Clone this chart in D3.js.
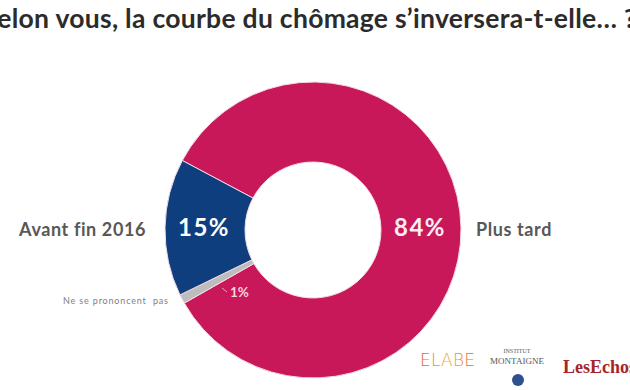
<!DOCTYPE html>
<html>
<head>
<meta charset="utf-8">
<script src="https://cdn.jsdelivr.net/npm/d3@7"></script>
<style>
  body { margin: 0; background: #fff; overflow: hidden; font-family: Lato, sans-serif; }
  svg { display: block; }
</style>
</head>
<body>
<div id="viz"></div>
<script>
// answers, in drawing order (clockwise from the top-left of the ring)
const answers = ["Plus tard", "Ne se prononcent  pas", "Avant fin 2016"];
const shares = [84, 1, 15];
const colors = ["#C8185A", "#BDBDBD", "#0E3E7E"];
const title = "Selon vous, la courbe du chômage s’inversera-t-elle… ?";

const width = 630, height = 390;
const cx = 313, cy = 230;
const outerR = 148, innerR = 68;

const svg = d3.select("#viz")
              .append("svg")
              .attr("width", width)
              .attr("height", height);

// title, cropped on the left like the source picture ("S" falls off the edge)
svg.append("text")
   .attr("x", -17.5)
   .attr("y", 28)
   .attr("font-family", "Lato, 'Open Sans', sans-serif")
   .attr("font-weight", 700)
   .attr("font-size", 26.5)
   .attr("letter-spacing", 0.28)
   .attr("fill", "#2b2b2b")
   .style("white-space", "pre")
   .text(title);

const pie = d3.pie()
              .sort(null)
              .value(d => d)
              .startAngle(-62 * Math.PI / 180)
              .endAngle(298 * Math.PI / 180);

const arc = d3.arc()
              .innerRadius(innerR)
              .outerRadius(outerR);

const arcs = pie(shares);

const ring = svg.append("g")
                .attr("transform", `translate(${cx},${cy})`);

ring.selectAll("path")
    .data(arcs)
    .join("path")
    .attr("d", arc)
    .attr("fill", (d, i) => colors[i])
    .attr("stroke", "#f4dbe4")
    .attr("stroke-width", 1);

// big percentages inside the ring
ring.append("text")
    .attr("x", 107)
    .attr("y", 6)
    .attr("text-anchor", "middle")
    .attr("font-family", "Lato, sans-serif")
    .attr("font-weight", 700)
    .attr("font-size", 24)
    .attr("letter-spacing", 1.5)
    .attr("fill", "#fbeef3")
    .text(shares[0] + "%");

ring.append("text")
    .attr("x", -109)
    .attr("y", 6)
    .attr("text-anchor", "middle")
    .attr("font-family", "Lato, sans-serif")
    .attr("font-weight", 700)
    .attr("font-size", 24)
    .attr("letter-spacing", 1.5)
    .attr("fill", "#ffffff")
    .text(shares[2] + "%");

// small 1% label with a leader
ring.append("line")
    .attr("x1", -91)
    .attr("y1", 58)
    .attr("x2", -86)
    .attr("y2", 62)
    .attr("stroke", "#e7a9bf")
    .attr("stroke-width", 1);
ring.append("text")
    .attr("x", -83)
    .attr("y", 67)
    .attr("font-family", "Lato, sans-serif")
    .attr("font-weight", 700)
    .attr("font-size", 13.5)
    .attr("fill", "#f6d3df")
    .text(shares[1] + "%");

// category names around the ring
svg.append("text")
   .attr("x", 476)
   .attr("y", 236)
   .attr("font-family", "Lato, sans-serif")
   .attr("font-weight", 700)
   .attr("font-size", 18)
   .attr("letter-spacing", 0.6)
   .attr("fill", "#585858")
   .text(answers[0]);

svg.append("text")
   .attr("x", 146)
   .attr("y", 236)
   .attr("text-anchor", "end")
   .attr("font-family", "Lato, sans-serif")
   .attr("font-weight", 700)
   .attr("font-size", 18)
   .attr("letter-spacing", 0.6)
   .attr("fill", "#585858")
   .text(answers[2]);

svg.append("text")
   .attr("x", 63)
   .attr("y", 304)
   .attr("font-family", "Lato, sans-serif")
   .attr("font-size", 9)
   .attr("fill", "#808080")
   .attr("textLength", 105)
   .style("white-space", "pre")
   .text(answers[1]);

// logos
const grad = svg.append("defs")
                .append("linearGradient")
                .attr("id", "elabe");
grad.append("stop").attr("offset", "0%").attr("stop-color", "#e8562a");
grad.append("stop").attr("offset", "50%").attr("stop-color", "#f2b23a");
grad.append("stop").attr("offset", "100%").attr("stop-color", "#e8562a");

svg.append("text")
   .attr("x", 420)
   .attr("y", 366)
   .attr("font-family", "'DejaVu Sans', sans-serif")
   .attr("font-weight", 300)
   .attr("font-size", 17)
   .attr("fill", "url(#elabe)")
   .attr("textLength", 55)
   .text("ELABE");

svg.append("text")
   .attr("x", 517)
   .attr("y", 353)
   .attr("text-anchor", "middle")
   .attr("font-family", "'Liberation Serif', serif")
   .attr("font-size", 6)
   .attr("fill", "#555")
   .text("INSTITUT");
svg.append("text")
   .attr("x", 517)
   .attr("y", 364)
   .attr("text-anchor", "middle")
   .attr("font-family", "'Liberation Serif', serif")
   .attr("font-size", 9)
   .attr("fill", "#555")
   .text("MONTAIGNE");
svg.append("circle")
   .attr("cx", 518)
   .attr("cy", 380)
   .attr("r", 6)
   .attr("fill", "#2f4f8f");

svg.append("text")
   .attr("x", 563)
   .attr("y", 373)
   .attr("font-family", "'Liberation Serif', serif")
   .attr("font-weight", 700)
   .attr("font-size", 18)
   .attr("fill", "#a3262b")
   .text("LesEchos");
</script>
</body>
</html>
